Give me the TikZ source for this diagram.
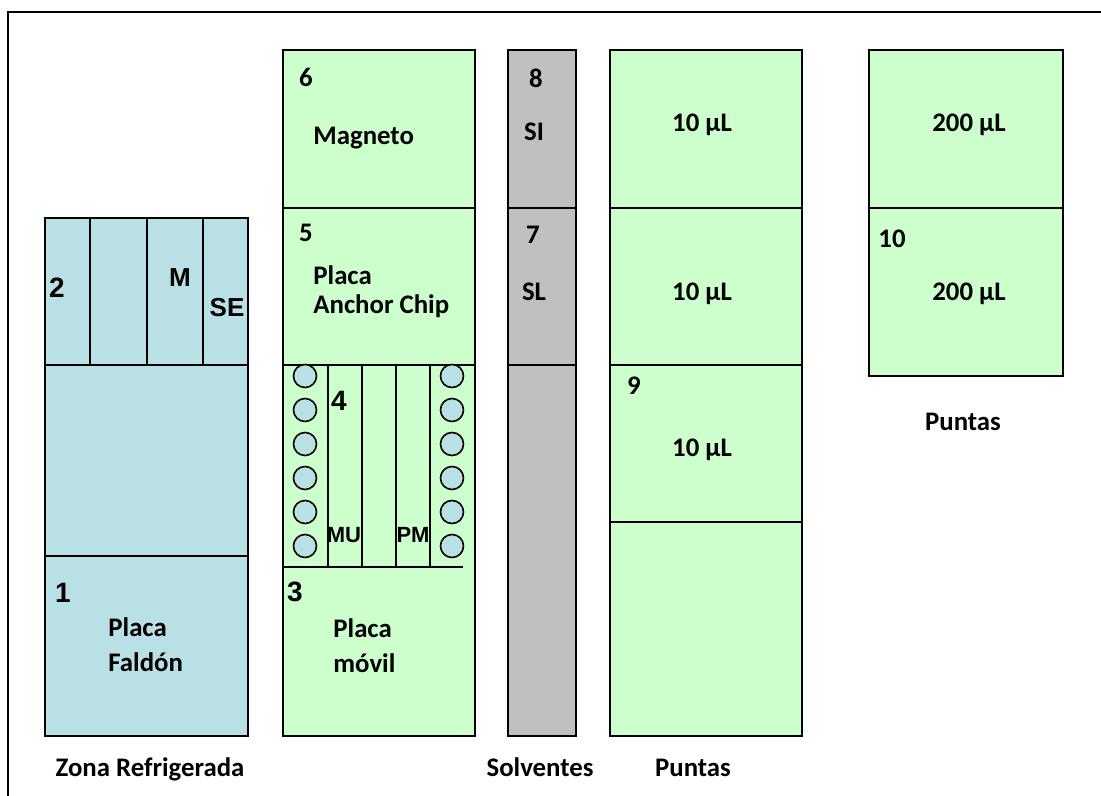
\documentclass[tikz,border=0pt]{standalone}
\usepackage{fontspec}
\setmainfont{Carlito}
\newfontfamily\arialfont{Liberation Sans}
\definecolor{iceblue}{RGB}{185,224,228}
\definecolor{mintgreen}{RGB}{204,255,204}
\definecolor{solvgray}{RGB}{192,192,192}
\begin{document}
\begin{tikzpicture}[x=0.5pt,y=-0.5pt,
  box/.style={draw,line width=1pt},
  lab/.style={font=\fontsize{13.4}{16}\selectfont\bfseries,inner sep=0pt},
  num/.style={font=\arialfont\fontsize{14}{16}\selectfont\bfseries,inner sep=0pt},
  small/.style={font=\arialfont\fontsize{11}{13}\selectfont\bfseries,inner sep=0pt},
  well/.style={draw,fill=iceblue,line width=0.8pt}]
\useasboundingbox (0,0) rectangle (1101,796);
\draw[line width=1pt] (8,796) -- (8,12) -- (1101,12);

\filldraw[box,fill=iceblue] (45,218) rectangle (248,736);
\draw[box] (45,365) -- (248,365);
\draw[box] (45,556) -- (248,556);
\foreach \x in {90,147,203} \draw[box] (\x,218) -- (\x,365);
\node[num] (n2) at (57,288) {2};
\node[num,font=\arialfont\fontsize{13}{15}\selectfont\bfseries] (m) at (180,278) {M};
\node[num,font=\arialfont\fontsize{13}{15}\selectfont\bfseries] (se) at (227,308) {SE};
\node[num] (n1) at (63,593) {1};
\node[lab,anchor=base west] (faldon1) at (108,636) {Placa};
\node[lab,anchor=base west] (faldon2) at (108,671) {Faldón};
\node[lab,anchor=base] (zona) at (150,776) {Zona Refrigerada};

\filldraw[box,fill=mintgreen] (283,50) rectangle (475,736);
\draw[box] (283,208) -- (475,208);
\draw[box] (283,365) -- (475,365);
\draw[box] (283,567) -- (463,567);
\foreach \x in {328,362,396,430} \draw[box] (\x,365) -- (\x,567);
\foreach \y in {376,410,444,478,512,546} {
  \draw[well] (305,\y) circle[radius=5.75pt];
  \draw[well] (452,\y) circle[radius=5.75pt];
}
\node[lab] (n6) at (306,77) {6};
\node[lab,anchor=base west] (magneto) at (313,145) {Magneto};
\node[lab] (n5) at (306,233) {5};
\node[lab,anchor=base west] (anchor1) at (313,285) {Placa};
\node[lab,anchor=base west] (anchor2) at (313,314) {Anchor Chip};
\node[num] (n4) at (339,401) {4};
\node[small] (mu) at (344,535) {MU};
\node[small] (pm) at (413,535) {PM};
\node[num] (n3) at (295,592) {3};
\node[lab,anchor=base west] (movil1) at (333,637) {Placa};
\node[lab,anchor=base west] (movil2) at (333,672) {móvil};

\filldraw[box,fill=solvgray] (508,50) rectangle (576,736);
\draw[box] (508,208) -- (576,208);
\draw[box] (508,365) -- (576,365);
\node[lab] (n8) at (536,78) {8};
\node[lab,anchor=base] (si) at (534,141) {SI};
\node[lab] (n7) at (533,235) {7};
\node[lab,anchor=base] (sl) at (534,300) {SL};
\node[lab,anchor=base] (solv) at (540,776) {Solventes};

\filldraw[box,fill=mintgreen] (610,50) rectangle (802,736);
\foreach \y in {208,365,522} \draw[box] (610,\y) -- (802,\y);
\node[lab,anchor=base] (tip1) at (702,132) {10 µL};
\node[lab,anchor=base] (tip2) at (702,300) {10 µL};
\node[lab] (n9) at (634,386) {9};
\node[lab,anchor=base] (tip3) at (702,456) {10 µL};
\node[lab,anchor=base] (puntas1) at (693,776) {Puntas};

\filldraw[box,fill=mintgreen] (869,50) rectangle (1063,376);
\draw[box] (869,208) -- (1063,208);
\node[lab,anchor=base] (big1) at (969,132) {200 µL};
\node[lab] (n10) at (892,239) {10};
\node[lab,anchor=base] (big2) at (969,300) {200 µL};
\node[lab,anchor=base] (puntas2) at (963,430) {Puntas};
\end{tikzpicture}
\end{document}
